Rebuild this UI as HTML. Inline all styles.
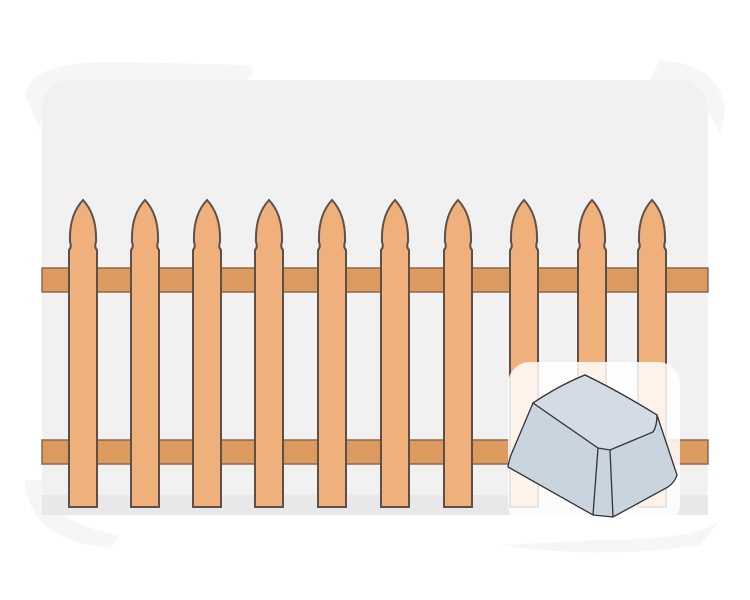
<!DOCTYPE html>
<html><head><meta charset="utf-8"><style>html,body{margin:0;padding:0;background:#fff}svg{display:block}</style></head>
<body>
<svg width="750" height="600" viewBox="0 0 750 600">
  <g fill="#f6f6f7">
    <path d="M25 95 Q30 60 120 62 L250 65 Q260 80 230 85 L70 88 Q45 95 40 130 Z"/>
    <path d="M660 60 Q720 65 725 110 L720 135 Q705 90 650 80 Z"/>
    <path d="M25 480 Q28 540 110 548 L120 535 Q50 525 45 480 Z"/>
    <path d="M500 545 Q600 560 700 545 L720 520 Q700 540 600 540 Z"/>
  </g>
  <rect x="42" y="80" width="666" height="435" rx="28" fill="#f1f1f2"/>
  <rect x="42" y="495" width="666" height="20" fill="#e8e8ea"/>
  <g>
    <rect x="42" y="268" width="666" height="24" fill="#dc9a5f" stroke="#8a6a4e" stroke-width="1.5"/>
  </g>
  <g>
    <rect x="42" y="440" width="666" height="24" fill="#dc9a5f" stroke="#8a6a4e" stroke-width="1.5"/>
  </g>
  <g id="pickets"></g>
  <g>
    <rect x="508" y="362" width="172" height="164" rx="22" fill="#ffffff" opacity="0.85"/>
    <path d="M533 403 Q560 385 585 375 Q620 392 657 415 L677 475 Q675 482 668 487 L613 517 L593 515 L508 467 Q509 460 511 455 Z" fill="#c9d4de" stroke="#333" stroke-width="1.3"/>
    <path d="M533 403 Q560 385 585 375 Q620 392 657 415 Q657 426 653 432 L610 450 L598 448 Z" fill="#d3dce5" stroke="#333" stroke-width="1.3"/>
    <path d="M598 448 L593 515 M610 450 L613 517" stroke="#333" stroke-width="1.3" fill="none"/>
  </g>
</svg>
<script>
const picketCenters=[83,145,207,269,332,395,458,524,592,652];
const g=document.getElementById('pickets');
const ns='http://www.w3.org/2000/svg';
picketCenters.forEach((cx,i)=>{
  const w=14;
  const p=document.createElementNS(ns,'path');
  p.setAttribute('d',`M${cx-w} 507 L${cx-w} 250 Q${cx-w+3} 247 ${cx-w+1} 242 Q${cx-w} 215 ${cx} 200 Q${cx+w} 215 ${cx+w-1} 242 Q${cx+w-3} 247 ${cx+w} 250 L${cx+w} 507 Z`);
  p.setAttribute('fill','#efb07b');
  p.setAttribute('stroke','#5e5048');
  p.setAttribute('stroke-width','2');
  
  
  g.appendChild(p);
});
</script>
</body></html>
